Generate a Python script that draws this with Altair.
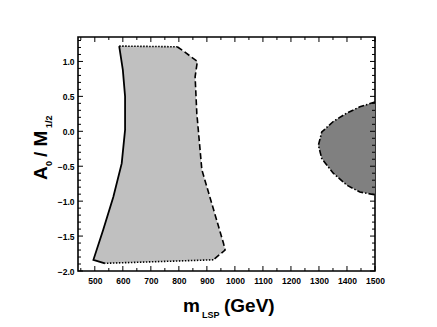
import altair as alt
import pandas as pd

# ---- data ----
light_left_x = [536, 495, 530, 566, 596, 608, 608, 600, 587]
light_left_y = [-1.89, -1.84, -1.41, -0.94, -0.46, 0.02, 0.50, 0.88, 1.22]
light_top_x = [587, 794]
light_top_y = [1.22, 1.21]
light_right_x = [794, 816, 866, 858, 864, 882, 959, 965, 923]
light_right_y = [1.21, 1.15, 1.00, 0.78, 0.26, -0.55, -1.60, -1.70, -1.84]
light_bottom_x = [923, 536]
light_bottom_y = [-1.84, -1.89]

dark_x = [1500, 1446, 1399, 1351, 1310, 1298, 1310, 1351, 1399, 1446, 1500]
dark_y = [0.42, 0.35, 0.26, 0.14, -0.01, -0.20, -0.39, -0.60, -0.77, -0.87, -0.91]

x_major = [500, 600, 700, 800, 900, 1000, 1100, 1200, 1300, 1400, 1500]
x_minor = [450, 550, 650, 750, 850, 950, 1050, 1150, 1250, 1350, 1450]
y_major = [-2.0, -1.5, -1.0, -0.5, 0.0, 0.5, 1.0]
y_minor = [-1.9, -1.8, -1.7, -1.6, -1.4, -1.3, -1.2, -1.1, -0.9, -0.8, -0.7, -0.6,
           -0.4, -0.3, -0.2, -0.1, 0.1, 0.2, 0.3, 0.4, 0.6, 0.7, 0.8, 0.9, 1.1, 1.2, 1.3]

W, H = 297, 234
FONT = "Liberation Sans"


def seg(xs, ys):
    return pd.DataFrame({"x": xs, "y": ys, "i": list(range(len(xs)))})


poly_x = light_left_x + light_top_x[1:] + light_right_x[1:] + light_bottom_x[1:-1]
poly_y = light_left_y + light_top_y[1:] + light_right_y[1:] + light_bottom_y[1:-1]

xscale = alt.Scale(domain=[440, 1500], nice=False, zero=False)
yscale = alt.Scale(domain=[-2.0, 1.35], nice=False, zero=False)
xaxis = alt.Axis(values=x_major, title=None, ticks=False, domain=False, grid=False,
                 labelFont=FONT, labelFontSize=8.5, labelFontWeight="bold",
                 labelColor="black", labelPadding=5, labelFlush=False, format="d")
yaxis = alt.Axis(values=y_major, title=None, ticks=False, domain=False, grid=False,
                 labelFont=FONT, labelFontSize=8.5, labelFontWeight="bold",
                 labelColor="black", labelPadding=4, format=".1f")


def X(f="x"):
    return alt.X(f, type="quantitative", scale=xscale, axis=xaxis)


def Y(f="y"):
    return alt.Y(f, type="quantitative", scale=yscale, axis=yaxis)


light_fill = alt.Chart(seg(poly_x, poly_y)).mark_line(
    fill="#c0c0c0", strokeWidth=0, strokeOpacity=0
).encode(x=X(), y=Y(), order="i:Q")

dark_shape = alt.Chart(seg(dark_x, dark_y)).mark_line(
    fill="#808080", color="black", strokeWidth=1.6, strokeDash=[6, 2, 1.5, 2]
).encode(x=X(), y=Y(), order="i:Q")

left_line = alt.Chart(seg(light_left_x, light_left_y)).mark_line(
    color="black", strokeWidth=1.8).encode(x=X(), y=Y(), order="i:Q")
top_line = alt.Chart(seg(light_top_x, light_top_y)).mark_line(
    color="black", strokeWidth=1.6, strokeDash=[1.5, 1.5]).encode(x=X(), y=Y(), order="i:Q")
right_line = alt.Chart(seg(light_right_x, light_right_y)).mark_line(
    color="black", strokeWidth=1.6, strokeDash=[6, 3]).encode(x=X(), y=Y(), order="i:Q")
bottom_line = alt.Chart(seg(light_bottom_x, light_bottom_y)).mark_line(
    color="black", strokeWidth=1.6, strokeDash=[1.5, 1.5]).encode(x=X(), y=Y(), order="i:Q")

# ---- inward ticks on all four sides ----
def xticks(vals, length):
    d = pd.DataFrame({"x": vals})
    bot = alt.Chart(d).mark_rule(color="black", strokeWidth=1).encode(
        x=X(), y=alt.value(H), y2=alt.value(H - length))
    top = alt.Chart(d).mark_rule(color="black", strokeWidth=1).encode(
        x=X(), y=alt.value(0), y2=alt.value(length))
    return [bot, top]


def yticks(vals, length):
    d = pd.DataFrame({"y": vals})
    lft = alt.Chart(d).mark_rule(color="black", strokeWidth=1).encode(
        y=Y(), x=alt.value(0), x2=alt.value(length))
    rgt = alt.Chart(d).mark_rule(color="black", strokeWidth=1).encode(
        y=Y(), x=alt.value(W), x2=alt.value(W - length))
    return [lft, rgt]


ticks = xticks(x_major, 5) + xticks(x_minor, 3) + yticks(y_major, 5) + yticks(y_minor, 3)

# ---- axis titles with subscripts ----
one = pd.DataFrame({"a": [0]})


def txt(s, x, y, size, angle=0):
    return alt.Chart(one).mark_text(
        text=s, font=FONT, fontWeight="bold", fontSize=size, color="black",
        align="left", baseline="alphabetic", angle=angle
    ).encode(x=alt.value(x), y=alt.value(y))


titles = [
    txt("m", 105, 275, 19),
    txt("LSP", 124, 281, 9),
    txt("(GeV)", 146, 275, 19),
    txt("A", -31, 143, 19, 270),
    txt("0", -26, 129, 9, 270),
    txt("/ M", -31, 120, 19, 270),
    txt("1/2", -26, 91, 9, 270),
]

chart = alt.layer(
    light_fill, dark_shape, left_line, top_line, right_line, bottom_line,
    *ticks, *titles
).properties(
    width=W, height=H,
    autosize=alt.AutoSizeParams(type="none"),
    padding={"left": 70, "top": 29, "right": 30, "bottom": 52},
).configure_view(stroke="black", strokeWidth=1.6)

chart.save("out.html", embed_options={"renderer": "svg", "actions": False})
